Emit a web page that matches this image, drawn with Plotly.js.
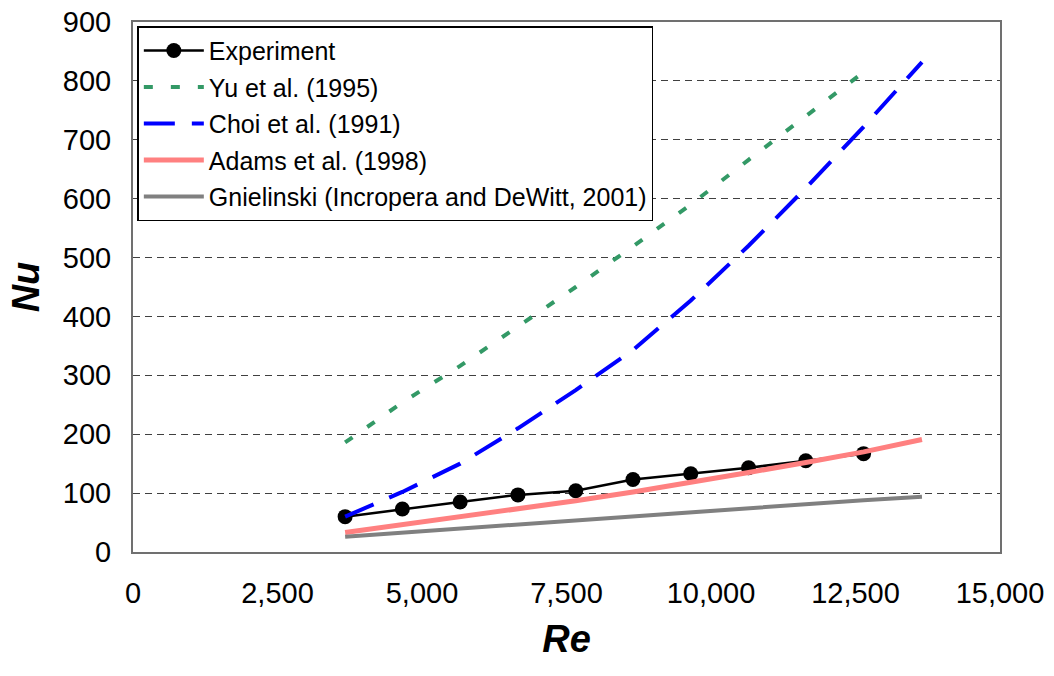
<!DOCTYPE html>
<html>
<head>
<meta charset="utf-8">
<script src="https://cdn.plot.ly/plotly-3.0.1.min.js"></script>
<style>html,body{margin:0;padding:0;background:#fff;}#chart{width:1054px;height:676px;}</style>
</head>
<body>
<div id="chart"></div>
<script>
// Data
const reExp = [3670, 4660, 5660, 6660, 7660, 8650, 9650, 10650, 11640, 12640];
const nuExp = [60, 73, 85, 97, 104, 123, 133, 143, 155, 167];
const reYu = [3670, 4660, 5660, 6660, 7660, 8650, 9650, 10650, 11640, 12640];
const nuYu = [186, 254, 316, 382, 450, 519, 590, 666, 741, 815];
const reCorr = [3670, 4660, 5660, 6660, 7660, 8650, 9650, 10650, 11640, 12640, 13650];
const nuChoi = [60, 102, 150, 210, 275, 343, 427, 520, 618, 722, 832];
const nuAdams = [33, 46, 59, 73, 87, 102, 118, 135, 152, 170, 191];
const nuGniel = [26, 33, 40, 47, 54, 60, 67, 74, 81, 88, 94];
const seriesNames = ["Experiment", "Yu et al. (1995)", "Choi et al. (1991)", "Adams et al. (1998)", "Gnielinski (Incropera and DeWitt, 2001)"];
const xTickVals = [0, 2500, 5000, 7500, 10000, 12500, 15000];
const xTickText = ["0", "2,500", "5,000", "7,500", "10,000", "12,500", "15,000"];
const yTickVals = [0, 100, 200, 300, 400, 500, 600, 700, 800, 900];

const FONT = "Liberation Sans, Arial, Helvetica, sans-serif";

const traces = [
  {x: reExp, y: nuExp, name: seriesNames[0], legendgroup: "a", mode: "lines+markers",
   line: {color: "#000000", width: 2.5}, marker: {color: "#000000", size: 15, symbol: "circle"}},
  {x: reYu, y: nuYu, name: seriesNames[1], legendgroup: "b", mode: "lines",
   line: {color: "#339966", width: 4, dash: "9px,18px"}},
  {x: reCorr, y: nuChoi, name: seriesNames[2], legendgroup: "c", mode: "lines",
   line: {color: "#0000ff", width: 4, dash: "31px,17px"}},
  {x: reCorr, y: nuAdams, name: seriesNames[3], legendgroup: "d", mode: "lines",
   line: {color: "#ff8080", width: 5}},
  {x: reCorr, y: nuGniel, name: seriesNames[4], legendgroup: "e", mode: "lines",
   line: {color: "#808080", width: 4}}
];

const layout = {
  width: 1054, height: 676,
  margin: {l: 133, r: 54, t: 22, b: 124, pad: 0},
  paper_bgcolor: "#ffffff", plot_bgcolor: "#ffffff",
  font: {family: FONT, color: "#000000"},
  showlegend: true,
  legend: {
    x: 0.005, y: 0.992, xanchor: "left", yanchor: "top",
    bgcolor: "#ffffff", bordercolor: "#000000", borderwidth: 1.5,
    font: {family: FONT, size: 25, color: "#000000"},
    itemwidth: 60, tracegroupgap: 1, traceorder: "grouped"
  },
  xaxis: {
    range: [0, 15000], tickvals: xTickVals, ticktext: xTickText,
    showgrid: false, zeroline: false,
    showline: true, mirror: true, linecolor: "#707070", linewidth: 2,
    ticks: "", ticklabelstandoff: 14,
    tickfont: {family: FONT, size: 29, color: "#000000"},
    title: {text: "<b><i>Re</i></b>", font: {family: FONT, size: 38, color: "#000000"}, standoff: 18},
    fixedrange: true
  },
  yaxis: {
    range: [0, 900], tickvals: yTickVals,
    showgrid: true, gridcolor: "#404040", gridwidth: 1, griddash: "7px,5px",
    zeroline: false,
    showline: true, mirror: true, linecolor: "#707070", linewidth: 2,
    ticks: "", ticklabelstandoff: 14,
    tickfont: {family: FONT, size: 29, color: "#000000"},
    title: {text: "<b><i>Nu</i></b>", font: {family: FONT, size: 38, color: "#000000"}, standoff: 12},
    fixedrange: true
  }
};

Plotly.newPlot("chart", traces, layout, {displayModeBar: false, staticPlot: true});
</script>
</body>
</html>
